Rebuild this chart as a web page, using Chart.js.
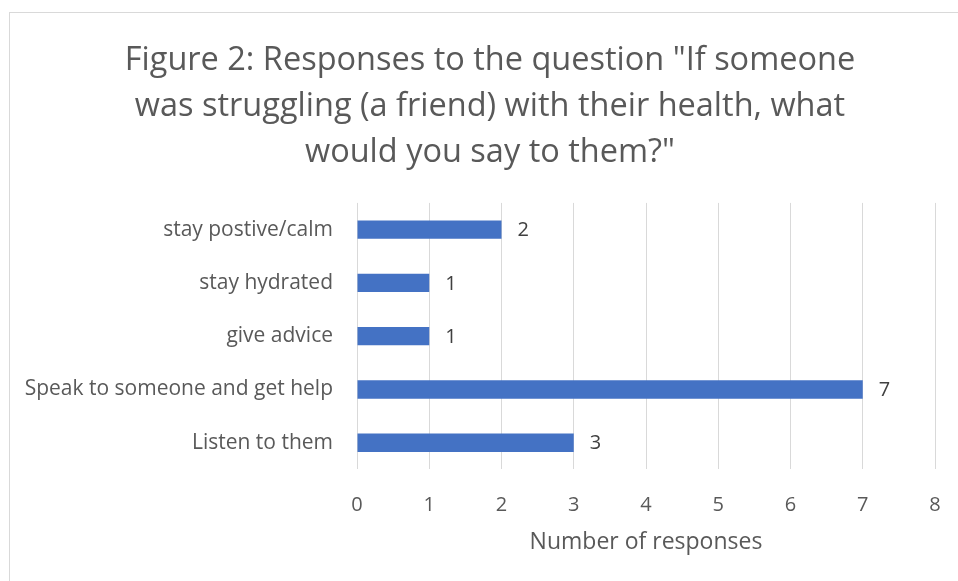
<!DOCTYPE html>
<html>
<head>
<meta charset="utf-8">
<script src="https://cdn.jsdelivr.net/npm/chart.js@4.4.1/dist/chart.umd.min.js"></script>
<style>
  html, body { margin: 0; padding: 0; background: #fff; overflow: hidden; }
  #frame {
    position: absolute; left: 9px; top: 12px; width: 980px; height: 600px;
    border: 1px solid #d9d9d9; box-sizing: border-box;
  }
  #wrap { position: absolute; left: 10px; top: 13px; width: 960px; height: 568px; }
</style>
</head>
<body>
<div id="frame"></div>
<div id="wrap"><canvas id="chart"></canvas></div>
<script>
// Dados do gráfico
const titleLines = [
  'Figure 2: Responses to the question "If someone',
  'was struggling (a friend) with their health, what',
  'would you say to them?"'
];
const categories = [
  'stay postive/calm',
  'stay hydrated',
  'give advice',
  'Speak to someone and get help',
  'Listen to them'
];
const responses = [2, 1, 1, 7, 3];
const xTicks = [0, 1, 2, 3, 4, 5, 6, 7, 8];
const xAxisTitle = 'Number of responses';

const FONT = '"Open Sans", "Noto Sans", sans-serif';
const GREY = '#595959';

// Rótulos de valor na ponta das barras
const valueLabels = {
  id: 'valueLabels',
  afterDatasetsDraw(chart) {
    const { ctx } = chart;
    const meta = chart.getDatasetMeta(0);
    ctx.save();
    ctx.font = '20px ' + FONT;
    ctx.fillStyle = '#404040';
    ctx.textAlign = 'left';
    ctx.textBaseline = 'middle';
    meta.data.forEach((bar, i) => {
      ctx.fillText(String(responses[i]), bar.x + 16, bar.y + 1);
    });
    ctx.restore();
  }
};

new Chart(document.getElementById('chart'), {
  type: 'bar',
  data: {
    labels: categories,
    datasets: [{
      data: responses,
      backgroundColor: '#4472C4',
      barPercentage: 0.345,
      categoryPercentage: 1
    }]
  },
  options: {
    indexAxis: 'y',
    responsive: true,
    maintainAspectRatio: false,
    animation: false,
    layout: { padding: { top: 0, right: 0, bottom: 25, left: 0 } },
    plugins: {
      legend: { display: false },
      tooltip: { enabled: false },
      title: {
        display: true,
        text: titleLines,
        color: GREY,
        font: { family: FONT, size: 32.5, weight: 'normal', lineHeight: 1.43 },
        padding: { top: 24, bottom: 26.5 }
      }
    },
    scales: {
      x: {
        min: 0,
        max: 8,
        afterBuildTicks: (scale) => { scale.ticks = xTicks.map(v => ({ value: v })); },
        grid: { color: '#d9d9d9', lineWidth: 1, drawTicks: false },
        border: { display: false },
        ticks: { color: GREY, font: { family: FONT, size: 20 }, padding: 24 },
        title: {
          display: true,
          text: xAxisTitle,
          color: GREY,
          font: { family: FONT, size: 23 },
          padding: { top: -13, bottom: 0 }
        }
      },
      y: {
        afterFit: (scale) => { scale.width = 347; },
        grid: { display: false },
        border: { display: false },
        ticks: { color: GREY, font: { family: FONT, size: 21 }, padding: 16 }
      },
      // eixo vazio à direita, só para reservar a margem
      yRight: {
        type: 'linear',
        position: 'right',
        afterFit: (scale) => { scale.width = 35; },
        grid: { display: false },
        border: { display: false },
        ticks: { display: false }
      }
    }
  },
  plugins: [valueLabels]
});
</script>
</body>
</html>
